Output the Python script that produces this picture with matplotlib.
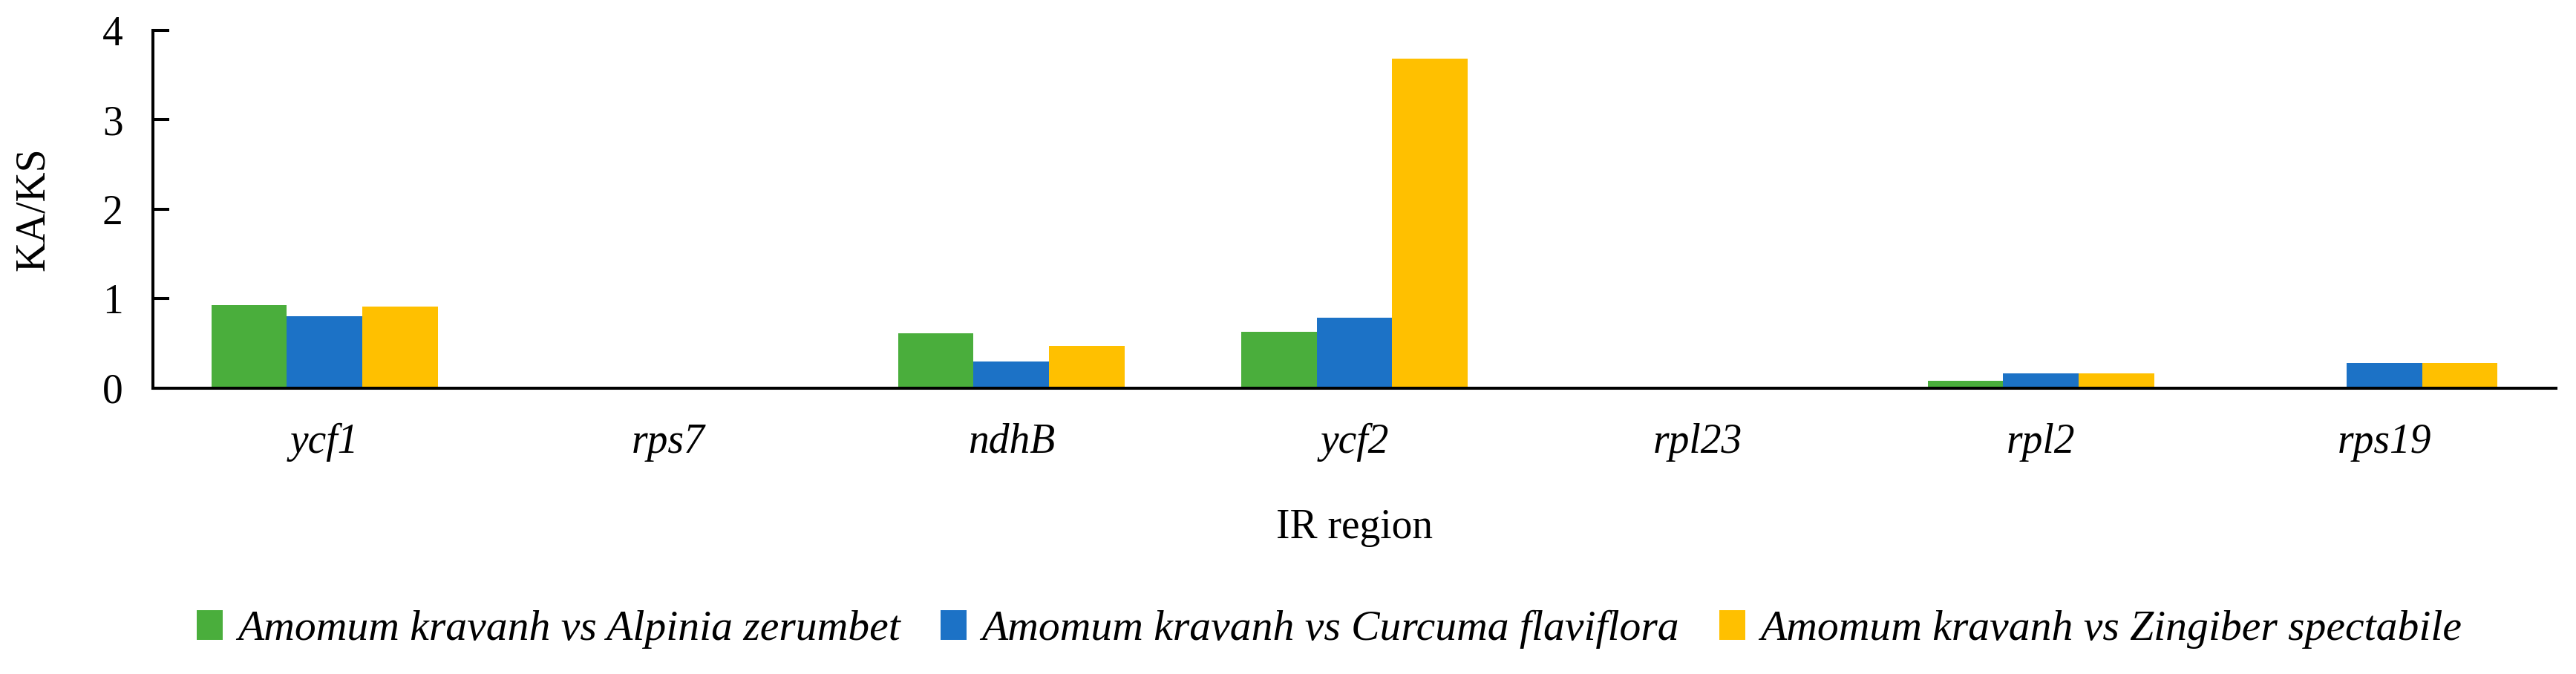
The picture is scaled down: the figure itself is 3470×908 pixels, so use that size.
import matplotlib
matplotlib.use("Agg")
import matplotlib.pyplot as plt
import numpy as np

plt.rcParams["font.family"] = ["Liberation Serif", "DejaVu Serif"]

genes = ["ycf1", "rps7", "ndhB", "ycf2", "rpl23", "rpl2", "rps19"]
series_names = [
    "Amomum kravanh vs Alpinia zerumbet",
    "Amomum kravanh vs Curcuma flaviflora",
    "Amomum kravanh vs Zingiber spectabile",
]
alpinia = [0.93, 0, 0.61, 0.63, 0, 0.08, 0]
curcuma = [0.80, 0, 0.30, 0.79, 0, 0.16, 0.28]
zingiber = [0.91, 0, 0.47, 3.68, 0, 0.16, 0.28]
colors = ["#4AAE3C", "#1C72C6", "#FFC000"]

fig = plt.figure(figsize=(34.7, 9.08), dpi=100)
ax = fig.add_axes([0.0594, 0.4243, 0.9328, 0.5309])

x = np.arange(len(genes))
w = 0.22
for i, (vals, name) in enumerate(zip([alpinia, curcuma, zingiber], series_names)):
    ax.bar(x + (i - 1) * w, vals, width=w, color=colors[i], label=name)

ax.set_xlim(-0.5, len(genes) - 0.5)
ax.set_ylim(0, 4)
ax.set_yticks([0, 1, 2, 3, 4])
ax.set_xticks(x)
ax.set_xticklabels(genes, fontstyle="italic")

for s in ["top", "right"]:
    ax.spines[s].set_visible(False)
for s in ["left", "bottom"]:
    ax.spines[s].set_linewidth(2.9)

ax.tick_params(axis="y", direction="in", length=16, width=2.9, labelsize=40, pad=29)
ax.tick_params(axis="x", length=0, labelsize=40, pad=34)

ax.set_ylabel("KA/KS", fontsize=40, labelpad=48)
ax.set_xlabel("IR region", fontsize=40, labelpad=45)

fig.legend(
    loc="center",
    bbox_to_anchor=(0.516, 0.066),
    ncol=3,
    frameon=False,
    prop={"size": 41.5, "style": "italic"},
    handlelength=0.6,
    handleheight=0.7,
    handletextpad=0.35,
    columnspacing=0.95,
)

fig.savefig("out.png", dpi=100)
